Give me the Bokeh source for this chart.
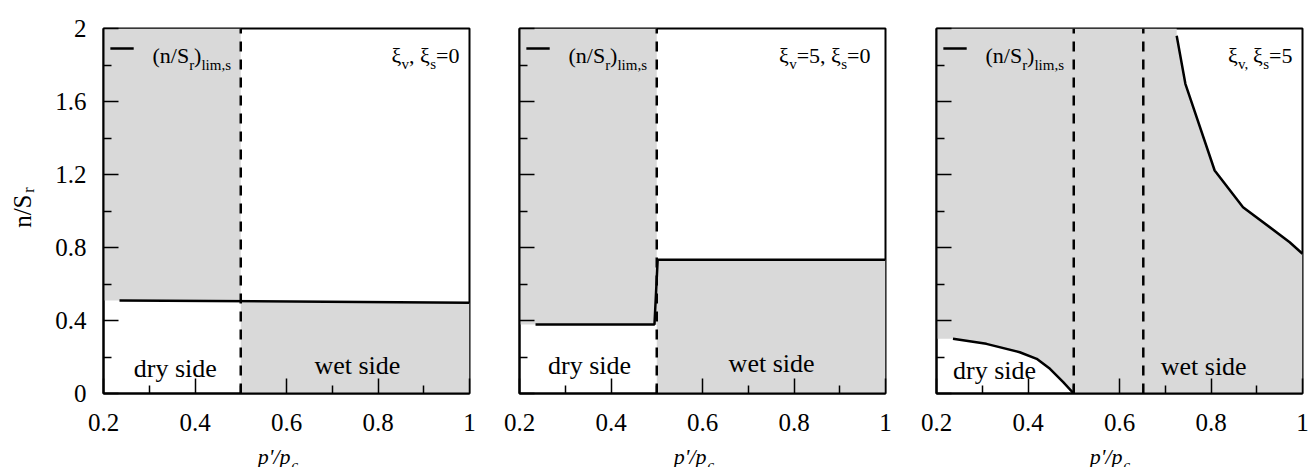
import numpy as np
from bokeh.plotting import figure
from bokeh.layouts import row, column
from bokeh.models import FixedTicker, CustomJSTickFormatter
from bokeh.core.properties import value
from bokeh.embed import file_html
from bokeh.resources import INLINE

# ---- axis ticks -------------------------------------------------------------
x_ticks = [0.2, 0.4, 0.6, 0.8, 1.0]
x_tick_labels = ["0.2", "0.4", "0.6", "0.8", "1"]
x_minor = [0.3, 0.5, 0.7, 0.9]
y_ticks = [0.0, 0.4, 0.8, 1.2, 1.6, 2.0]
y_tick_labels = ["0", "0.4", "0.8", "1.2", "1.6", "2"]
y_minor = [0.2, 0.6, 1.0, 1.4, 1.8]

# ---- limit curves (n/Sr)lim,s against p'/pc --------------------------------
# xi_v, xi_s = 0
a_x = [0.235, 1.0]
a_y = [0.51, 0.497]
# xi_v = 5, xi_s = 0
b_x = [0.235, 0.495, 0.502, 1.0]
b_y = [0.378, 0.378, 0.733, 0.733]
# xi_v, xi_s = 5 : dry-side and wet-side branches
c_dry_x = [0.236, 0.309, 0.382, 0.419, 0.448, 0.477, 0.5]
c_dry_y = [0.30, 0.272, 0.226, 0.19, 0.135, 0.062, 0.0]
c_wet_x = [0.725, 0.744, 0.808, 0.870, 0.972, 1.0]
c_wet_y = [1.96, 1.697, 1.222, 1.021, 0.829, 0.766]

# critical-state dividers (dashed)
a_div = [0.5]
b_div = [0.5]
c_div = [0.5, 0.652]

# panel annotations
titles = [
    [("\u03be", 0), ("v", 1), (", ", 0), ("\u03be", 0), ("s", 1), ("=0", 0)],
    [("\u03be", 0), ("v", 1), ("=5, ", 0), ("\u03be", 0), ("s", 1), ("=0", 0)],
    [("\u03be", 0), ("v, ", 1), ("\u03be", 0), ("s", 1), ("=5", 0)],
]
legend_text = [("(n/S", 0), ("r", 1), (")", 0), ("lim,s", 1)]
x_label_main, x_label_sub = "p'/p", "c"
y_label_main, y_label_sub = "n/S", "r"

X0, X1 = 0.2, 1.0
Y0, Y1 = 0.0, 2.0
GREY = "#d9d9d9"
FONT = "Liberation Serif"
H_MAIN = 442          # panel height; the strip below holds the x labels
H_STRIP = 467 - H_MAIN
FRAME_W, FRAME_H = 366, 365
PX_X = FRAME_W / (X1 - X0)
PX_Y = FRAME_H / (Y1 - Y0)

# approximate advance widths (em) of the serif face
ADV = {"(": .333, ")": .333, "n": .5, "/": .278, "S": .556, "r": .333,
       "l": .278, "i": .278, "m": .778, ",": .25, "s": .389, " ": .25,
       "=": .564, "v": .5, "\u03be": .46, "p": .5, "'": .214, "c": .444}


def adv(text, size):
    return sum(ADV.get(ch, 0.5) for ch in text) * size


def txt(p, x, y, text, size, align="left", italic=False, angle=0.0):
    p.text(x=[x], y=[y], text=[text], text_font=value(FONT),
           text_font_size=f"{size}px",
           text_font_style="italic" if italic else "normal",
           text_align=align, text_baseline="alphabetic",
           text_color="black", angle=angle)


def write_run(p, x, y, pieces, size, sub_size, sub_drop, px_per_x):
    """Lay out a run of normal / subscript pieces starting at (x, y)."""
    pos = x
    for text, is_sub in pieces:
        fs = sub_size if is_sub else size
        txt(p, pos, y - (sub_drop if is_sub else 0.0), text, fs)
        pos += adv(text, fs) / px_per_x


def run_width(pieces, size, sub_size):
    return sum(adv(t, sub_size if s else size) for t, s in pieces)


def tick_formatter(values, labels):
    return CustomJSTickFormatter(
        args=dict(tick_values=values, tick_labels=labels),
        code="""
        for (let i = 0; i < tick_values.length; i++) {
            if (Math.abs(tick_values[i] - tick) < 1e-9) return tick_labels[i];
        }
        return "";
        """)


def make_panel(width, left, right, show_y_labels):
    p = figure(width=width, height=H_MAIN, x_range=(X0, X1), y_range=(Y0, Y1),
               min_border_left=left, min_border_right=right,
               min_border_top=28, min_border_bottom=H_MAIN - 28 - FRAME_H,
               title=None, output_backend="svg", toolbar_location=None)
    p.grid.visible = False
    p.background_fill_color = "white"
    p.border_fill_color = "white"
    p.outline_line_color = "black"
    p.outline_line_width = 2

    p.xaxis.ticker = FixedTicker(ticks=x_ticks, minor_ticks=x_minor)
    p.yaxis.ticker = FixedTicker(ticks=y_ticks, minor_ticks=y_minor)
    p.xaxis.formatter = tick_formatter(x_ticks, x_tick_labels)
    if show_y_labels:
        p.yaxis.formatter = tick_formatter(y_ticks, y_tick_labels)
        p.yaxis.major_label_standoff = 17
    else:
        p.yaxis.formatter = tick_formatter(y_ticks, [""] * len(y_ticks))
        p.yaxis.major_label_standoff = 0
    p.xaxis.major_label_standoff = 20

    for axes in (p.xaxis, p.yaxis):
        axes.axis_line_color = "black"
        axes.axis_line_width = 2
        axes.major_tick_line_color = "black"
        axes.minor_tick_line_color = "black"
        axes.major_tick_line_width = 1.5
        axes.minor_tick_line_width = 1.5
        axes.major_tick_in = 15
        axes.major_tick_out = 0
        axes.minor_tick_in = 8
        axes.minor_tick_out = 0
        axes.major_label_text_font = FONT
        axes.major_label_text_font_size = "25px"
        axes.major_label_text_color = "black"
    return p


def split_fill(p, xs, ys, split):
    """Grey above the curve on the dry side, below it on the wet side."""
    xs = np.asarray(xs, float)
    ys = np.asarray(ys, float)
    left = xs < split
    lx = np.concatenate([[X0], xs[left], [split]])
    ly = np.interp(lx, xs[left], ys[left])
    p.varea(x=lx, y1=ly, y2=Y1, fill_color=GREY)
    right = xs > split
    rx = np.concatenate([[split], xs[right]])
    ry = np.interp(rx, xs[right], ys[right])
    p.varea(x=rx, y1=Y0, y2=ry, fill_color=GREY)


def dividers(p, locs):
    p.segment(x0=locs, y0=[Y0] * len(locs), x1=locs, y1=[Y1] * len(locs),
              line_color="black", line_width=2.5, line_dash="10 8")


def legend_entry(p):
    p.segment(x0=[0.215], y0=[1.89], x1=[0.266], y1=[1.89],
              line_color="black", line_width=2.5)
    write_run(p, 0.307, 1.852, legend_text, 22, 15, 9 / PX_Y, PX_X)


def title(p, pieces, right_x):
    w = run_width(pieces, 22, 15) / PX_X
    write_run(p, right_x - w, 1.852, pieces, 22, 15, 8 / PX_Y, PX_X)


def side_labels(p, dry, wet):
    txt(p, dry[0], dry[1], "dry side", 26, align="center")
    txt(p, wet[0], wet[1], "wet side", 26, align="center")


# ---- panel 1 ----------------------------------------------------------------
p1 = make_panel(449, 58, 25, True)
split_fill(p1, a_x, a_y, a_div[0])
dividers(p1, a_div)
p1.line(a_x, a_y, line_color="black", line_width=2.5)
legend_entry(p1)
side_labels(p1, (0.357, 0.137), (0.755, 0.153))
title(p1, titles[0], 0.978)

# ---- panel 2 ----------------------------------------------------------------
p2 = make_panel(416, 25, 25, False)
split_fill(p2, b_x, b_y, b_div[0])
dividers(p2, b_div)
p2.line(b_x, b_y, line_color="black", line_width=2.5)
legend_entry(p2)
side_labels(p2, (0.353, 0.153), (0.751, 0.164))
title(p2, titles[1], 0.967)

# ---- panel 3 ----------------------------------------------------------------
p3 = make_panel(403, 26, 11, False)
poly_x = [X0, X0] + c_dry_x + [X1] + c_wet_x[::-1] + [c_wet_x[0]]
poly_y = [Y1, c_dry_y[0]] + c_dry_y + [Y0] + c_wet_y[::-1] + [Y1]
p3.patch(poly_x, poly_y, fill_color=GREY, line_color=None)
dividers(p3, c_div)
p3.line(c_dry_x, c_dry_y, line_color="black", line_width=2.5)
p3.line(c_wet_x, c_wet_y, line_color="black", line_width=2.5)
legend_entry(p3)
side_labels(p3, (0.327, 0.126), (0.784, 0.148))
title(p3, titles[2], 0.978)


def blank(width, height):
    f = figure(width=width, height=height, x_range=(0, width),
               y_range=(0, height), x_axis_type=None, y_axis_type=None,
               min_border=0, title=None, output_backend="svg",
               toolbar_location=None)
    f.grid.visible = False
    f.outline_line_color = None
    f.border_fill_color = "white"
    f.background_fill_color = "white"
    return f


# ---- y-axis title (rotated, main part ends where the subscript begins) ------
YL_W = 45
ylab = blank(YL_W, H_MAIN)
join_y = H_MAIN - 201
txt(ylab, 22, join_y, y_label_main, 25, align="right", angle=np.pi / 2)
txt(ylab, 28, join_y + 2, y_label_sub, 16, align="left", angle=np.pi / 2)

# ---- x-axis titles ----------------------------------------------------------
strip = blank(1313, H_STRIP)
frame_lefts = [103, 519, 935]
for fl in frame_lefts:
    join_x = fl + 187
    txt(strip, join_x, 467 - 456, x_label_main, 22, align="right", italic=True)
    txt(strip, join_x + 1, 467 - 464, x_label_sub, 15, align="left",
        italic=True)

layout = column(row(ylab, p1, p2, p3), strip)
open("out.html", "w").write(file_html(layout, INLINE))
